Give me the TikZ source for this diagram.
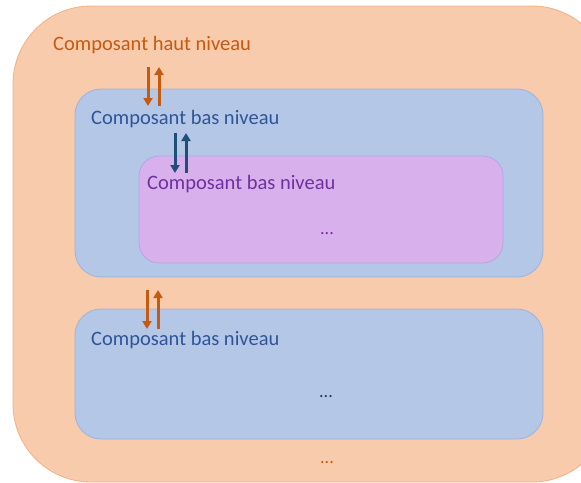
\documentclass[tikz,border=0pt]{standalone}
\usepackage{fontspec}
\setmainfont{Carlito}
\usetikzlibrary{arrows.meta}
\definecolor{hautfill}{HTML}{F8CBAD}
\definecolor{hautline}{HTML}{F4B183}
\definecolor{hauttext}{HTML}{C55A11}
\definecolor{basfill}{HTML}{B4C7E7}
\definecolor{basline}{HTML}{9DB3DE}
\definecolor{bastext}{HTML}{2F5597}
\definecolor{subfill}{HTML}{D8B0EB}
\definecolor{subline}{HTML}{AFA8E4}
\definecolor{subtext}{HTML}{7030A0}
\definecolor{linkblue}{HTML}{1F4E79}
\definecolor{dotsblue}{HTML}{203864}
\tikzset{
  box/.style={draw, line width=0.8pt, inner sep=0pt},
  label/.style={anchor=west, inner sep=0pt, font=\fontsize{20.5}{24}\selectfont},
  dots/.style={inner sep=0pt, font=\fontsize{18}{22}\selectfont},
  link/.style={line width=3pt, -{Triangle[width=9pt,length=8pt]}},
}
\begin{document}
\begin{tikzpicture}[x=1pt, y=-1pt]
  \useasboundingbox (0,0) rectangle (581,482);
  \clip (0,0) rectangle (581,482);
  % outer high-level component
  \draw[box, hautline, fill=hautfill, rounded corners=78pt] (13,6) rectangle (610,482);
  \node[label, text=hauttext] (haut) at (53,45) {Composant haut niveau};
  \node[dots, text=hauttext] (hautdots) at (327,463) {...};
  % first low-level component
  \draw[box, basline, fill=basfill, rounded corners=26pt] (75,89) rectangle (543,277);
  \node[label, text=bastext] (bas1) at (91,119) {Composant bas niveau};
  % nested component
  \draw[box, subline, fill=subfill, rounded corners=20pt] (139,156) rectangle (503,263);
  \node[label, text=subtext] (sub) at (147,184) {Composant bas niveau};
  \node[dots, text=subtext] (subdots) at (327,234) {...};
  % second low-level component
  \draw[box, basline, fill=basfill, rounded corners=26pt] (75,309) rectangle (543,439);
  \node[label, text=bastext] (bas2) at (91,340) {Composant bas niveau};
  \node[dots, text=dotsblue] (bas2dots) at (326,397) {...};
  % request / response arrows
  \coordinate (a1s) at (148,67);  \coordinate (a1e) at (148,106);
  \coordinate (b1s) at (159,106); \coordinate (b1e) at (159,67);
  \coordinate (a2s) at (175,133); \coordinate (a2e) at (175,173);
  \coordinate (b2s) at (186,173); \coordinate (b2e) at (186,133);
  \coordinate (a3s) at (147,290); \coordinate (a3e) at (147,329);
  \coordinate (b3s) at (158,329); \coordinate (b3e) at (158,290);
  \draw[link, hauttext] (a1s) -- (a1e);
  \draw[link, hauttext] (b1s) -- (b1e);
  \draw[link, linkblue] (a2s) -- (a2e);
  \draw[link, linkblue] (b2s) -- (b2e);
  \draw[link, hauttext] (a3s) -- (a3e);
  \draw[link, hauttext] (b3s) -- (b3e);
\end{tikzpicture}
\end{document}
